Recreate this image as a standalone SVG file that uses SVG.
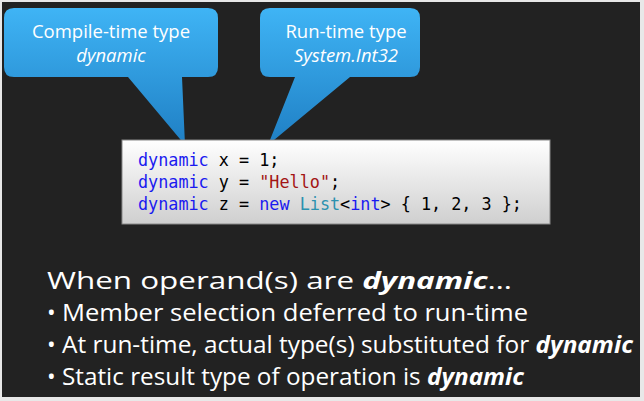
<svg xmlns="http://www.w3.org/2000/svg" width="644" height="401" viewBox="0 0 644 401">
<defs>
<linearGradient id="blue" x1="0" y1="0" x2="0" y2="1"><stop offset="0" stop-color="#3fb4f5"/><stop offset="1" stop-color="#1f7fc4"/></linearGradient>
<linearGradient id="code" x1="0" y1="0" x2="0" y2="1"><stop offset="0" stop-color="#ffffff"/><stop offset="1" stop-color="#cfcfcf"/></linearGradient>
</defs>
<style>
.c{font-family:"Open Sans","Liberation Sans",sans-serif;fill:#fff;font-size:18.5px;text-anchor:middle}
.m{font-family:"DejaVu Sans Mono","Liberation Mono",monospace;font-size:16.8px;fill:#000}
.k{fill:#1a1af0}.s{fill:#a31515}.t{fill:#2b91af}
.b{font-family:"Open Sans","Liberation Sans",sans-serif;fill:#fff;font-size:23px}
</style>
<rect x="0" y="0" width="644" height="401" fill="#e8e8e8"/>
<rect x="2" y="2" width="638" height="395" fill="#222"/>
<g id="callout1">
<path d="M14,8 H208 Q218,8 218,18 V67 Q218,77 208,77 H182 L185,145 L128,77 H14 Q4,77 4,67 V18 Q4,8 14,8 Z" fill="url(#blue)"/>
<text class="c" x="111" y="38">Compile-time type</text>
<text class="c" x="111" y="62" font-style="italic">dynamic</text>
</g>
<g id="callout2">
<path d="M270,8 H410 Q420,8 420,18 V67 Q420,77 410,77 H350 L268,145 L295,77 H270 Q260,77 260,67 V18 Q260,8 270,8 Z" fill="url(#blue)"/>
<text class="c" x="346" y="38">Run-time type</text>
<text class="c" x="346" y="62" font-style="italic">System.Int32</text>
</g>
<g id="code-box">
<rect x="122" y="140" width="428" height="84" fill="url(#code)" stroke="#888" stroke-width="1"/>
<text class="m" x="138" y="166"><tspan class="k">dynamic</tspan> x = 1;</text>
<text class="m" x="138" y="188"><tspan class="k">dynamic</tspan> y = <tspan class="s">"Hello"</tspan>;</text>
<text class="m" x="138" y="210"><tspan class="k">dynamic</tspan> z = <tspan class="k">new</tspan> <tspan class="t">List</tspan>&lt;<tspan class="k">int</tspan>&gt; { 1, 2, 3 };</text>
</g>
<g id="bullets">
<text class="b" x="47" y="289" textLength="465" lengthAdjust="spacingAndGlyphs">When operand(s) are <tspan font-weight="bold" font-style="italic">dynamic</tspan>…</text>
<text class="b" x="47" y="321">•</text>
<text class="b" x="62" y="321" textLength="466" lengthAdjust="spacingAndGlyphs">Member selection deferred to run-time</text>
<text class="b" x="47" y="353">•</text>
<text class="b" x="62" y="353" textLength="571" lengthAdjust="spacingAndGlyphs">At run-time, actual type(s) substituted for <tspan font-weight="bold" font-style="italic">dynamic</tspan></text>
<text class="b" x="47" y="385">•</text>
<text class="b" x="62" y="385" textLength="462" lengthAdjust="spacingAndGlyphs">Static result type of operation is <tspan font-weight="bold" font-style="italic">dynamic</tspan></text>
</g>
</svg>
